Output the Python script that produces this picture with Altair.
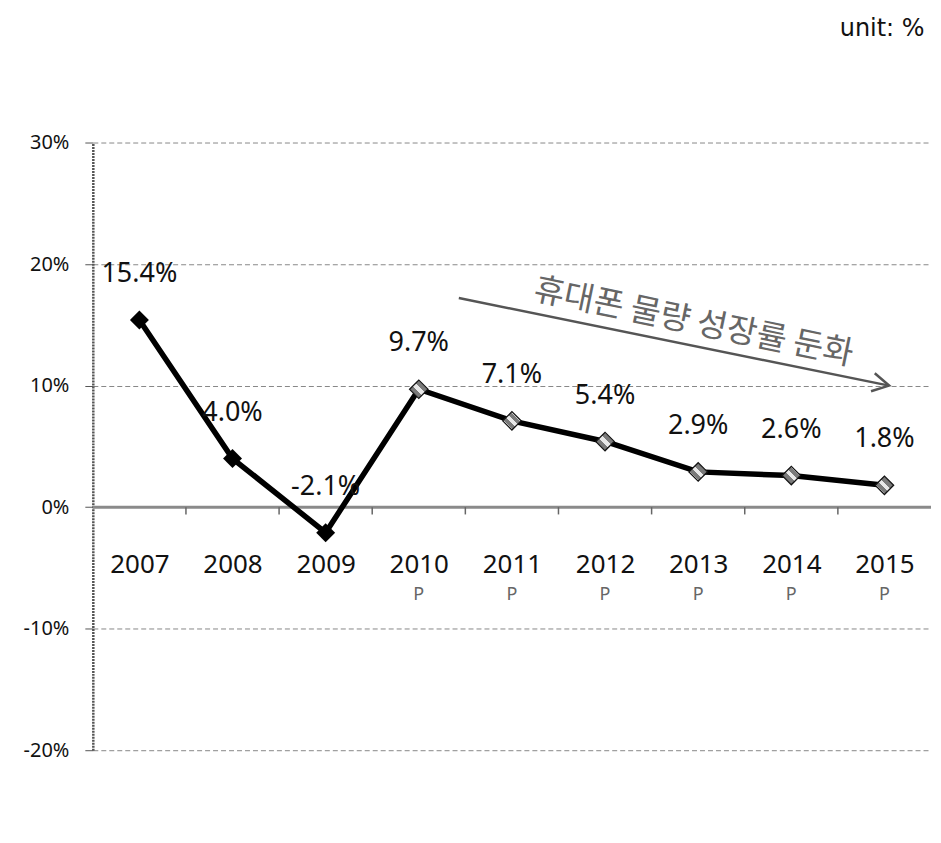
import altair as alt
import pandas as pd

# ---- data ----
years = [2007, 2008, 2009, 2010, 2011, 2012, 2013, 2014, 2015]
growth = [15.4, 4.0, -2.1, 9.7, 7.1, 5.4, 2.9, 2.6, 1.8]
labels = ["15.4%", "4.0%", "-2.1%", "9.7%", "7.1%", "5.4%", "2.9%", "2.6%", "1.8%"]
projected = [False, False, False, True, True, True, True, True, True]
proj_mark = ["", "", "", "P", "P", "P", "P", "P", "P"]
y_ticks = [-20, -10, 0, 10, 20, 30]
arrow_x = [2010.43, 2015.05]
arrow_y = [17.2, 10.0]
arrow_text = ["휴대폰 물량 성장률 둔화"]
arrow_text_x = [2012.95]
arrow_text_y = [15.2]
unit_text = "unit: %"

W, H = 840, 609
Y_MIN, Y_MAX = -20, 30
zero_offset = -(H * (0 - Y_MIN) / (Y_MAX - Y_MIN))

df = pd.DataFrame({"year": years, "growth": growth, "label": labels,
                   "proj": projected, "pmark": proj_mark})
bounds = pd.DataFrame({"b": [y + 0.5 for y in years[:-1]]})
arrow_df = pd.DataFrame({"x": arrow_x, "y": arrow_y, "i": [0, 1]})
arrow_end = arrow_df.tail(1)
arrow_txt_df = pd.DataFrame({"x": arrow_text_x, "y": arrow_text_y, "t": arrow_text})

xscale = alt.Scale(domain=[years[0] - 0.5, years[-1] + 0.5], nice=False, zero=False)
yscale = alt.Scale(domain=[Y_MIN, Y_MAX], nice=False, zero=False)

NUM_FONT = "Noto Sans"
KR_FONT = "Noto Sans CJK KR"

x_enc = alt.X("year:Q", scale=xscale,
              axis=alt.Axis(values=years, format="d", ticks=False, tickSize=0, domain=False,
                            grid=False, labelFontSize=26, labelFont=NUM_FONT,
                            labelColor="#111", labelPadding=45, labelFlush=False,
                            labelOverlap=False, offset=zero_offset, title=None))
y_enc = alt.Y("growth:Q", scale=yscale,
              axis=alt.Axis(values=y_ticks, labelExpr="datum.value + '%'", grid=True,
                            gridDash=[5, 3], gridColor="#888", gridWidth=1,
                            domain=True, domainColor="#555", domainWidth=2.5,
                            domainDash=[2, 1], tickSize=8, tickColor="#555",
                            labelFontSize=20, labelFont=NUM_FONT, labelColor="#111",
                            labelPadding=16, title=None))

base = alt.Chart(df)

zero_rule = alt.Chart(df.head(1)).mark_rule(color="#8a8a8a", strokeWidth=3).encode(
    y=alt.datum(0, scale=yscale))

ticks = alt.Chart(bounds).mark_rule(color="#666", strokeWidth=1.5).encode(
    x=alt.X("b:Q", scale=xscale), y=alt.datum(0), y2=alt.datum(-0.6))

arrow_line = alt.Chart(arrow_df).mark_line(color="#555", strokeWidth=2.5).encode(
    x=alt.X("x:Q", scale=xscale), y=alt.Y("y:Q", scale=yscale), order="i:O")

arrow_head = alt.Chart(arrow_end).mark_point(
    shape="M -1.7 -0.95 L 0 0 L -1.7 0.95", filled=False, size=380,
    stroke="#555", strokeWidth=2.5, angle=11.7, opacity=1).encode(
    x=alt.X("x:Q", scale=xscale), y=alt.Y("y:Q", scale=yscale))

arrow_label = alt.Chart(arrow_txt_df).mark_text(
    font=KR_FONT, fontSize=33, color="#666", angle=11.7, baseline="middle",
    align="center").encode(
    x=alt.X("x:Q", scale=xscale), y=alt.Y("y:Q", scale=yscale), text="t:N")

line = base.mark_line(color="black", strokeWidth=5.5).encode(x=x_enc, y=y_enc)

pts_actual = base.transform_filter("!datum.proj").mark_point(
    shape="diamond", filled=True, size=360, color="black", opacity=1).encode(
    x=alt.X("year:Q", scale=xscale), y=alt.Y("growth:Q", scale=yscale))

stops = []
n = 7
for k in range(n):
    c = "#7a7a7a" if k % 2 == 0 else "#e8e8e8"
    stops.append(alt.GradientStop(offset=k / n, color=c))
    stops.append(alt.GradientStop(offset=(k + 1) / n, color=c))
hatch = alt.Gradient(gradient="linear", stops=stops, x1=0, y1=1, x2=1, y2=0)

pts_proj = base.transform_filter("datum.proj").mark_point(
    shape="diamond", filled=True, size=340, fill=hatch, stroke="#111",
    strokeWidth=1.3, opacity=1).encode(
    x=alt.X("year:Q", scale=xscale), y=alt.Y("growth:Q", scale=yscale))

val_labels = base.mark_text(font=NUM_FONT, fontSize=27, color="#111", dy=-46,
                            baseline="middle").encode(
    x=alt.X("year:Q", scale=xscale), y=alt.Y("growth:Q", scale=yscale), text="label:N")

p_labels = base.transform_filter("datum.proj").mark_text(
    font=NUM_FONT, fontSize=18, color="#666", baseline="middle").encode(
    x=alt.X("year:Q", scale=xscale), y=alt.value(453), text="pmark:N")

chart = alt.layer(
    zero_rule, ticks, arrow_line, arrow_head, arrow_label,
    line, pts_actual, pts_proj, val_labels, p_labels
).properties(
    width=W, height=H,
    padding={"left": 15, "top": 8, "right": 0, "bottom": 4},
    title=alt.TitleParams(unit_text, anchor="end", fontSize=24, font="DejaVu Sans",
                          fontWeight="normal", color="#111", offset=92, dx=-8),
).configure_view(stroke=None)

chart.save("out.html", embed_options={"renderer": "svg", "actions": False})
